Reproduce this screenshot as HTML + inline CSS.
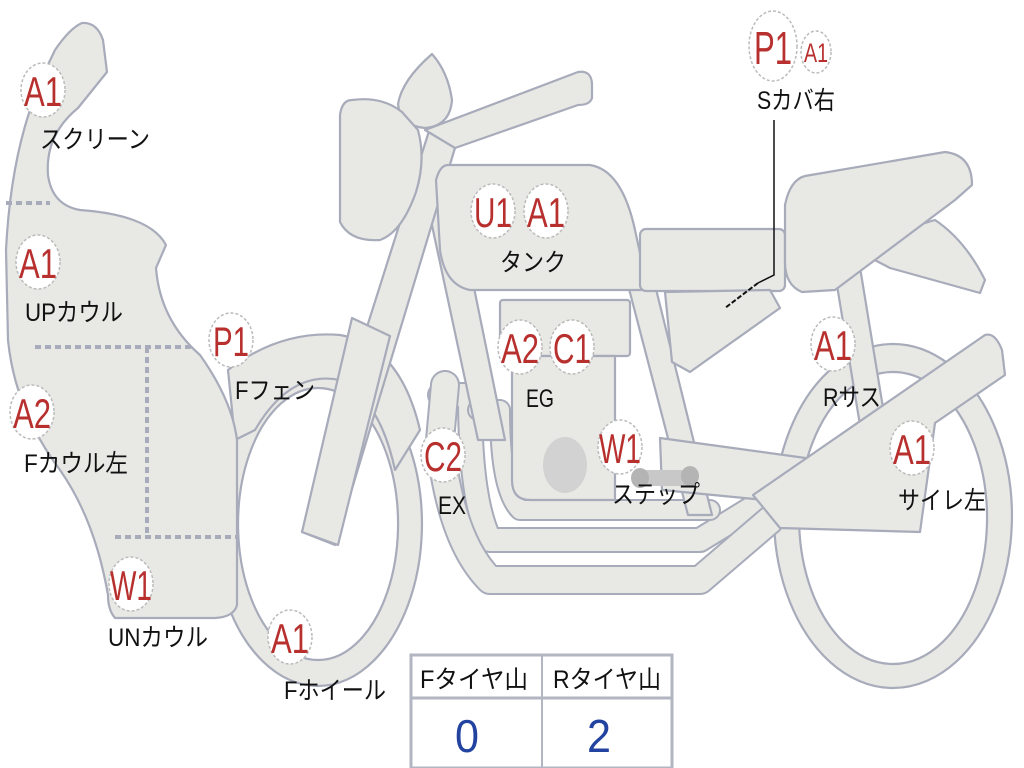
<!DOCTYPE html>
<html><head><meta charset="utf-8"><style>
html,body{margin:0;padding:0;background:#fff;}
svg{display:block}
.s{fill:#e8e8e4;stroke:#a7abba;stroke-width:2.2;stroke-linejoin:round}
.c{fill:#fff;stroke:#bbb;stroke-width:1.5;stroke-dasharray:3 2}
.r{font-family:"Liberation Sans",sans-serif;fill:#b8302e;font-size:42px;text-anchor:middle}
.t{font-family:"Liberation Sans","Noto Sans CJK JP",sans-serif;fill:#111;font-size:25px}
.d{stroke:#a7abba;stroke-width:4;stroke-dasharray:6 4;fill:none}
</style></head><body>
<svg width="1024" height="768" viewBox="0 0 1024 768" xmlns="http://www.w3.org/2000/svg">
<!-- rear wheel -->
<path class="s" fill-rule="evenodd" d="M893,344 A119,172 0 1 1 892.9,344 Z M893,372 A94,146 0 1 0 893.1,372 Z"/>
<!-- front wheel -->
<path class="s" fill-rule="evenodd" d="M318,362 A104,162 0 1 1 317.9,362 Z M318,388 A80,136 0 1 0 318.1,388 Z"/>
<!-- exhaust bands -->
<g fill="none" stroke-linejoin="round" stroke-linecap="round">
<path d="M440,395 L470,395 Q470,500 490,540 L700,540 L765,500" stroke="#a7abba" stroke-width="26"/>
<path d="M440,395 L470,395 Q470,500 490,540 L700,540 L765,500" stroke="#e8e8e4" stroke-width="22"/>
<path d="M445,385 L440,440 Q450,540 490,580 L700,580 L770,520" stroke="#a7abba" stroke-width="30"/>
<path d="M445,385 L440,440 Q450,540 490,580 L700,580 L770,520" stroke="#e8e8e4" stroke-width="26"/>
<path d="M478,410 L500,410 Q500,490 520,510 L710,510" stroke="#a7abba" stroke-width="22"/>
<path d="M478,410 L500,410 Q500,490 520,510 L710,510" stroke="#e8e8e4" stroke-width="18"/>
</g>
<!-- front fender -->
<path class="s" d="M228,370 Q280,330 340,335 Q400,345 420,430 L395,470 Q380,400 340,380 Q290,370 255,430 L235,440 Z"/>
<!-- frame tubes -->
<polygon class="s" points="418,160 448,160 505,440 478,440"/>
<polygon class="s" points="628,285 655,285 712,515 688,515"/>
<polygon class="s" points="660,438 820,460 815,505 662,490"/>
<polygon class="s" points="832,255 858,255 885,420 860,425"/>
<!-- engine -->
<rect class="s" x="500" y="300" width="130" height="56" rx="3"/>
<path class="s" d="M512,356 L615,356 L615,500 L530,500 Q512,500 512,480 Z"/>
<ellipse cx="565" cy="465" rx="22" ry="28" fill="#d2d2d2"/>
<rect x="635" y="470" width="60" height="16" rx="8" fill="#c8c8c8"/>
<ellipse cx="640" cy="478" rx="9" ry="10" fill="#b4b4b4"/><ellipse cx="690" cy="476" rx="9" ry="10" fill="#b4b4b4"/>
<!-- fork -->
<polygon class="s" points="430,128 458,138 335,545 302,532"/>
<polygon class="s" points="352,318 390,336 338,545 302,532"/>
<!-- handlebar -->
<path class="s" d="M425,130 L578,72 Q592,70 592,85 L592,98 Q590,105 578,105 L455,148 Z"/>
<path class="s" d="M432,54 Q448,72 452,100 Q450,126 425,128 Q400,126 398,104 Q402,80 432,54 Z"/>
<path class="s" d="M352,100 Q382,96 402,112 L418,130 Q426,160 416,192 Q402,232 380,240 Q350,242 340,222 L340,115 Q342,100 352,100 Z"/>
<!-- tank -->
<path class="s" d="M448,165 L590,165 Q622,170 635,230 L648,290 L470,290 Q445,285 440,250 L436,180 Q440,165 448,165 Z"/>
<!-- seat -->
<rect class="s" x="640" y="229" width="145" height="62" rx="6"/>
<polygon class="s" points="665,292 770,290 780,308 690,372 672,362"/>
<path class="s" d="M848,246 L935,220 Q965,240 985,280 L980,293 L890,268 Z"/>
<path class="s" d="M805,176 L945,152 Q972,155 972,185 L955,200 L835,290 L802,292 Q785,285 785,262 L785,205 Q790,180 805,176 Z"/>
<!-- rear side cover / muffler -->
<path class="s" d="M753,495 L985,335 Q995,332 1002,350 L1005,375 L935,423 L920,532 L780,528 Z"/>
<!-- front cowl -->
<path class="s" d="M82,23 Q97,22 103,40 L107,72 L78,108 Q45,135 48,175 Q52,205 80,210 Q150,215 166,245 L156,268 Q160,320 200,355 Q232,400 237,440 L237,605 Q234,617 215,618 L115,618 Q108,610 108,595 Q95,520 60,470 Q15,410 8,340 L6,250 Q10,170 30,110 Q40,80 55,50 Q70,28 82,23 Z"/>
<path class="d" d="M6,203 L50,203 M35,347 L192,347 M147,347 L147,535 M115,537 L236,537"/>
<!-- leader -->
<path d="M774,120 L774,275 L758,283" stroke="#111" stroke-width="1.5" fill="none"/>
<path d="M758,283 L725,308" stroke="#111" stroke-width="2" stroke-dasharray="5 2" fill="none"/>
<!-- circles -->
<g>
<ellipse class="c" cx="43" cy="90" rx="22" ry="27"/><text class="r" x="43" y="106" textLength="38" lengthAdjust="spacingAndGlyphs">A1</text>
<ellipse class="c" cx="38" cy="262" rx="22" ry="27"/><text class="r" x="38" y="278" textLength="38" lengthAdjust="spacingAndGlyphs">A1</text>
<ellipse class="c" cx="32" cy="412" rx="22" ry="27"/><text class="r" x="32" y="428" textLength="38" lengthAdjust="spacingAndGlyphs">A2</text>
<ellipse class="c" cx="131" cy="584" rx="22" ry="27"/><text class="r" x="131" y="600" textLength="42" lengthAdjust="spacingAndGlyphs">W1</text>
<ellipse class="c" cx="231" cy="340" rx="22" ry="27"/><text class="r" x="231" y="356" textLength="36" lengthAdjust="spacingAndGlyphs">P1</text>
<ellipse class="c" cx="290" cy="637" rx="22" ry="27"/><text class="r" x="290" y="653" textLength="38" lengthAdjust="spacingAndGlyphs">A1</text>
<ellipse class="c" cx="493" cy="211" rx="22" ry="27"/><text class="r" x="493" y="227" textLength="38" lengthAdjust="spacingAndGlyphs">U1</text>
<ellipse class="c" cx="546" cy="211" rx="22" ry="27"/><text class="r" x="546" y="227" textLength="38" lengthAdjust="spacingAndGlyphs">A1</text>
<ellipse class="c" cx="520" cy="347" rx="22" ry="27"/><text class="r" x="520" y="363" textLength="38" lengthAdjust="spacingAndGlyphs">A2</text>
<ellipse class="c" cx="572" cy="347" rx="22" ry="27"/><text class="r" x="572" y="363" textLength="38" lengthAdjust="spacingAndGlyphs">C1</text>
<ellipse class="c" cx="443" cy="455" rx="22" ry="27"/><text class="r" x="443" y="471" textLength="38" lengthAdjust="spacingAndGlyphs">C2</text>
<ellipse class="c" cx="620" cy="447" rx="22" ry="27"/><text class="r" x="620" y="463" textLength="42" lengthAdjust="spacingAndGlyphs">W1</text>
<ellipse class="c" cx="773" cy="46" rx="24" ry="35"/><text class="r" x="773" y="64" style="font-size:46px" textLength="38" lengthAdjust="spacingAndGlyphs">P1</text>
<ellipse class="c" cx="816" cy="52" rx="15" ry="21"/><text class="r" x="816" y="62" style="font-size:27px" textLength="24" lengthAdjust="spacingAndGlyphs">A1</text>
<ellipse class="c" cx="833" cy="344" rx="22" ry="27"/><text class="r" x="833" y="360" textLength="38" lengthAdjust="spacingAndGlyphs">A1</text>
<ellipse class="c" cx="912" cy="448" rx="22" ry="27"/><text class="r" x="912" y="464" textLength="38" lengthAdjust="spacingAndGlyphs">A1</text>
</g>
<g class="t">
<text x="40" y="148" textLength="110" lengthAdjust="spacingAndGlyphs">スクリーン</text>
<text x="25" y="321" textLength="98" lengthAdjust="spacingAndGlyphs">UPカウル</text>
<text x="24" y="472" textLength="104" lengthAdjust="spacingAndGlyphs">Fカウル左</text>
<text x="108" y="646" textLength="100" lengthAdjust="spacingAndGlyphs">UNカウル</text>
<text x="235" y="399" textLength="80" lengthAdjust="spacingAndGlyphs">Fフェン</text>
<text x="284" y="699" textLength="102" lengthAdjust="spacingAndGlyphs">Fホイール</text>
<text x="500" y="271" textLength="66" lengthAdjust="spacingAndGlyphs">タンク</text>
<text x="526" y="407" textLength="28" lengthAdjust="spacingAndGlyphs">EG</text>
<text x="438" y="514" textLength="28" lengthAdjust="spacingAndGlyphs">EX</text>
<text x="612" y="503" textLength="88" lengthAdjust="spacingAndGlyphs">ステップ</text>
<text x="757" y="109" textLength="78" lengthAdjust="spacingAndGlyphs">Sカバ右</text>
<text x="823" y="406" textLength="58" lengthAdjust="spacingAndGlyphs">Rサス</text>
<text x="898" y="509" textLength="88" lengthAdjust="spacingAndGlyphs">サイレ左</text>
</g>
<!-- table -->
<g fill="none" stroke="#b2b6c2" stroke-width="3">
<rect x="411" y="655" width="261" height="113"/>
<line x1="411" y1="698" x2="672" y2="698"/>
<line x1="542" y1="655" x2="542" y2="768" stroke-width="2"/>
</g>
<text class="t" x="420" y="688" textLength="108" lengthAdjust="spacingAndGlyphs">Fタイヤ山</text>
<text class="t" x="553" y="688" textLength="108" lengthAdjust="spacingAndGlyphs">Rタイヤ山</text>
<text x="467" y="752" text-anchor="middle" font-family="Liberation Sans,sans-serif" font-size="46" fill="#2244a0" textLength="24" lengthAdjust="spacingAndGlyphs">0</text>
<text x="599" y="752" text-anchor="middle" font-family="Liberation Sans,sans-serif" font-size="46" fill="#2244a0" textLength="24" lengthAdjust="spacingAndGlyphs">2</text>
</svg>
</body></html>
